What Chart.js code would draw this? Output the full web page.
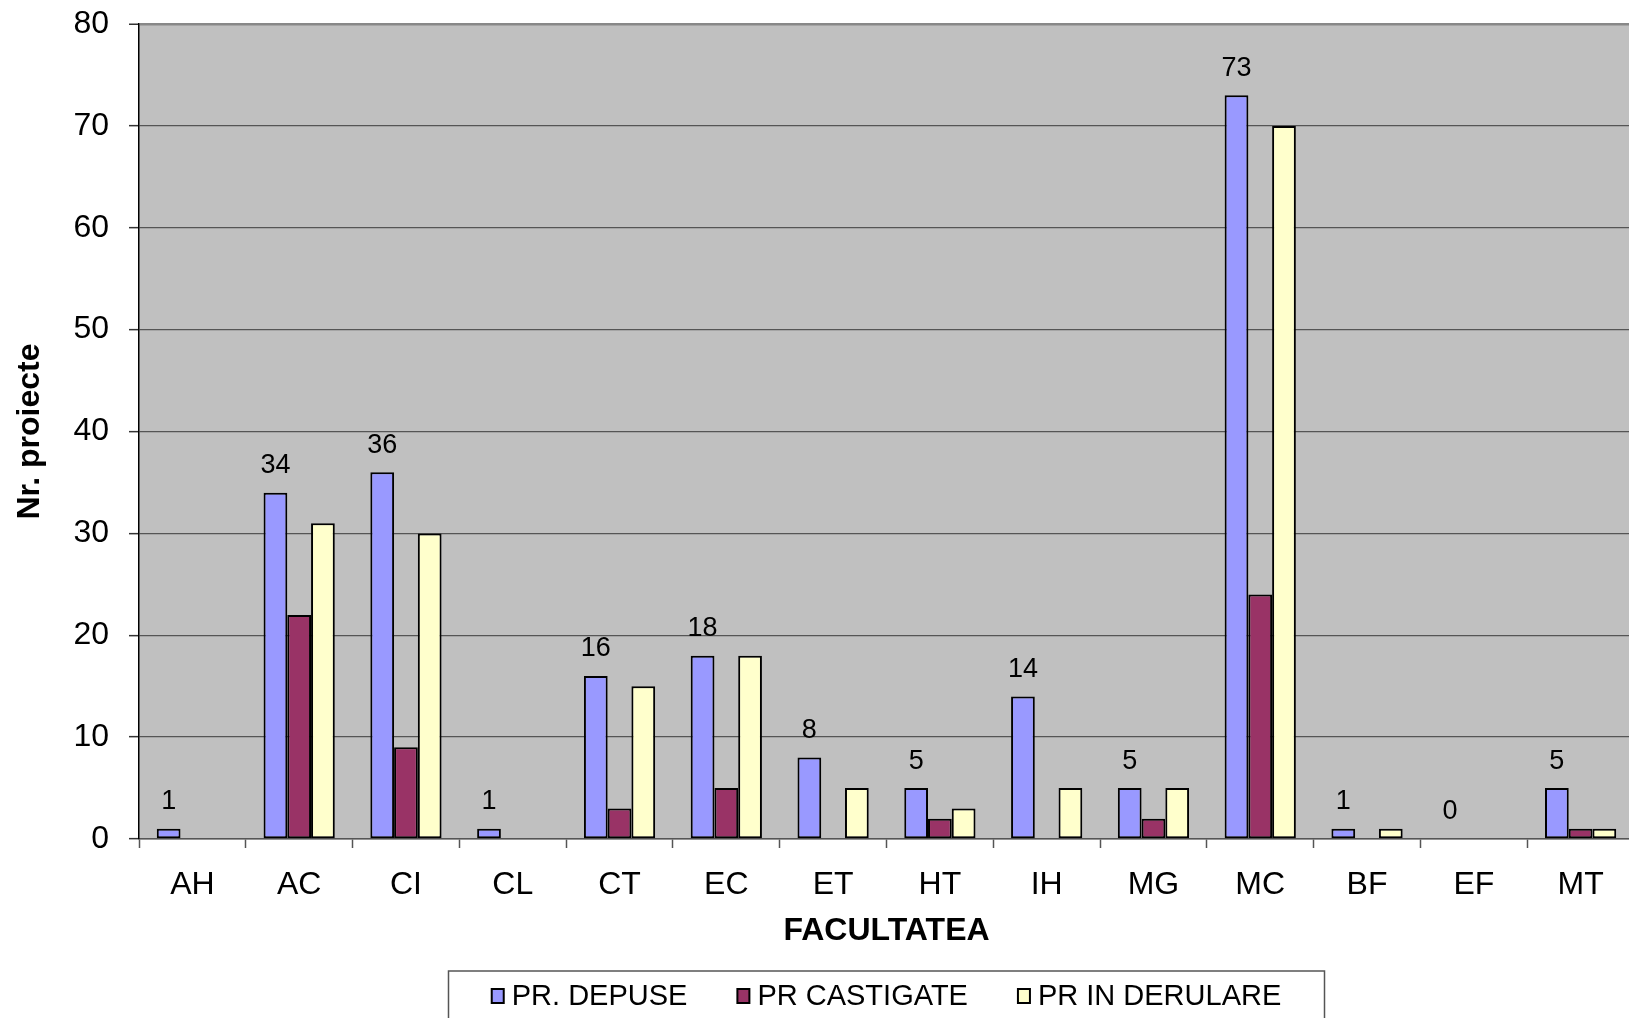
<!DOCTYPE html>
<html>
<head>
<meta charset="utf-8">
<script src="https://cdn.jsdelivr.net/npm/chart.js@4/dist/chart.umd.min.js"></script>
<style>
  html, body { margin: 0; padding: 0; background: #fff; overflow: hidden; }
  #wrap { position: relative; width: 1634px; height: 1018px; }
</style>
</head>
<body>
<div id="wrap"><canvas id="facultyChart"></canvas></div>
<script>
const faculties = ["AH", "AC", "CI", "CL", "CT", "EC", "ET", "HT", "IH", "MG", "MC", "BF", "EF", "MT"];
const depuse = [1, 34, 36, 1, 16, 18, 8, 5, 14, 5, 73, 1, 0, 5];
const castigate = [0, 22, 9, 0, 3, 5, 0, 2, 0, 2, 24, 0, 0, 1];
const inDerulare = [0, 31, 30, 0, 15, 18, 5, 3, 5, 5, 70, 1, 0, 1];
const seriesNames = ["PR. DEPUSE", "PR CASTIGATE", "PR IN DERULARE"];
const seriesColors = ["#9999FF", "#993366", "#FFFFCC"];
const yTicks = [0, 10, 20, 30, 40, 50, 60, 70, 80];

const FONT = "'Liberation Sans', Arial, sans-serif";

// grey plot area like the old excel charts
const plotBackground = {
  id: "plotBackground",
  beforeDraw(chart) {
    const { ctx, chartArea: a } = chart;
    ctx.save();
    ctx.fillStyle = "#C0C0C0";
    ctx.fillRect(a.left, a.top, a.right - a.left, a.bottom - a.top);
    ctx.restore();
  },
};

// numbers above first series only
const valueLabels = {
  id: "valueLabels",
  afterDatasetsDraw(chart) {
    const { ctx } = chart;
    const meta = chart.getDatasetMeta(0);
    ctx.save();
    ctx.font = `27px ${FONT}`;
    ctx.fillStyle = "#000";
    ctx.textAlign = "center";
    ctx.textBaseline = "middle";
    meta.data.forEach((bar, i) => {
      ctx.fillText(String(depuse[i]), bar.x, bar.y - 27);
    });
    ctx.restore();
  },
};

// boxed legend under the axis title
const boxedLegend = {
  id: "boxedLegend",
  afterDraw(chart) {
    const { ctx, chartArea: a } = chart;
    const cx = (a.left + a.right) / 2;
    const cy = 996;
    ctx.save();
    ctx.font = `29px ${FONT}`;
    const items = chart.data.datasets.map((ds) => ({
      text: ds.label,
      color: ds.backgroundColor,
      w: 14 + 6 + ctx.measureText(ds.label).width,
    }));
    const gap = 50;
    const total = items.reduce((s, it) => s + it.w, 0) + gap * (items.length - 1);

    ctx.strokeStyle = "#555";
    ctx.lineWidth = 1.5;
    ctx.strokeRect(cx - 438, cy - 25, 876, 80);

    let x = cx - total / 2;
    items.forEach((it) => {
      ctx.fillStyle = it.color;
      ctx.fillRect(x, cy - 7, 12, 14);
      ctx.strokeStyle = "#000";
      ctx.lineWidth = 2;
      ctx.strokeRect(x, cy - 7, 12, 14);
      ctx.fillStyle = "#000";
      ctx.textAlign = "left";
      ctx.textBaseline = "middle";
      ctx.fillText(it.text, x + 20, cy + 1);
      x += it.w + gap;
    });
    ctx.restore();
  },
};

const seriesData = [depuse, castigate, inDerulare];

new Chart(document.getElementById("facultyChart"), {
  type: "bar",
  data: {
    labels: faculties,
    datasets: seriesNames.map((name, i) => ({
      label: name,
      data: seriesData[i],
      backgroundColor: seriesColors[i],
      borderColor: "#000",
      borderWidth: 2,
      borderSkipped: false,
      categoryPercentage: 0.667,
      barPercentage: 1,
    })),
  },
  options: {
    responsive: true,
    maintainAspectRatio: false,
    animation: false,
    devicePixelRatio: 1,
    layout: { padding: { top: 24, right: 0, bottom: 0, left: 0 } },
    plugins: {
      legend: { display: false },
      tooltip: { enabled: false },
    },
    scales: {
      x: {
        offset: true,
        afterFit(scale) {
          scale.height = 179;
          scale.paddingLeft = 0;
          scale.paddingRight = 0;
        },
        border: { color: "#555", width: 1.5 },
        grid: {
          offset: true,
          drawOnChartArea: false,
          drawTicks: true,
          tickLength: 9,
          tickColor: "#555",
          tickWidth: 1.5,
        },
        ticks: {
          color: "#000",
          font: { family: FONT, size: 32 },
          padding: 18,
          maxRotation: 0,
        },
        title: {
          display: true,
          text: "FACULTATEA",
          color: "#000",
          font: { family: FONT, size: 32, weight: "bold" },
          padding: { top: 0, bottom: 68 },
        },
      },
      y: {
        min: 0,
        max: 80,
        afterFit(scale) {
          scale.width = 139;
          scale.paddingTop = 0;
          scale.paddingBottom = 0;
        },
        afterBuildTicks(scale) { scale.ticks = yTicks.map((v) => ({ value: v })); },
        border: { color: "#000", width: 1.5 },
        grid: {
          color: (c) => (c.tick && c.tick.value === 80 ? "#888" : "#555"),
          lineWidth: (c) => (c.tick && c.tick.value === 80 ? 2.5 : 1.3),
          tickLength: 10,
          tickColor: "#333",
          tickWidth: 1.5,
        },
        ticks: {
          color: "#000",
          font: { family: FONT, size: 32 },
          padding: 20,
        },
        title: {
          display: true,
          text: "Nr. proiecte",
          color: "#000",
          font: { family: FONT, size: 32, weight: "bold" },
          padding: { top: 11, bottom: 0 },
        },
      },
    },
  },
  plugins: [plotBackground, valueLabels, boxedLegend],
});
</script>
</body>
</html>
